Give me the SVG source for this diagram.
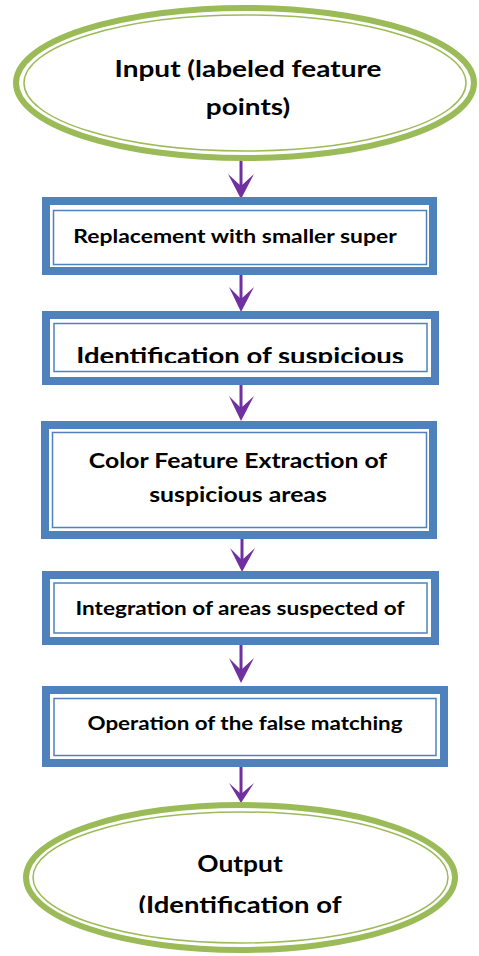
<svg xmlns="http://www.w3.org/2000/svg" width="479" height="956" viewBox="0 0 479 956">
<defs>
<style>
.ell-outer{fill:#fff;stroke:#9BBB59;stroke-width:6}
.ell-inner{fill:none;stroke:#9BBB59;stroke-width:1.5}
.box-outer{fill:#fff;stroke:#4F81BD;stroke-width:8}
.box-inner{fill:none;stroke:#4F81BD;stroke-width:1.5}
.t{font-family:Lato,"Open Sans","Liberation Sans",sans-serif;font-weight:700;fill:#000;text-anchor:middle}
.conn{stroke:#7030A0;stroke-width:3;fill:none}
.head{fill:#7030A0}
</style>
<clipPath id="clip2"><rect x="50" y="300" width="380" height="63"/></clipPath>
<clipPath id="clip7"><rect x="20" y="800" width="440" height="113"/></clipPath>
</defs>
<g id="connectors">
<line class="conn" x1="241" y1="160" x2="241" y2="192"/>
<path class="head" d="M228,174 L241,186 L254,174 L241,199 Z"/>
<line class="conn" x1="241" y1="275" x2="241" y2="306"/>
<path class="head" d="M229,287 L241,299 L254,287 L241,312 Z"/>
<line class="conn" x1="241" y1="385" x2="241" y2="415"/>
<path class="head" d="M229,396 L241,408 L254,396 L241,421 Z"/>
<line class="conn" x1="242" y1="539" x2="242" y2="566"/>
<path class="head" d="M230,548 L242,560 L255,548 L242,572 Z"/>
<line class="conn" x1="241" y1="645" x2="241" y2="677"/>
<path class="head" d="M229,658 L241,670 L254,658 L241,683 Z"/>
<line class="conn" x1="241" y1="767" x2="241" y2="796"/>
<path class="head" d="M229,783 L241,794 L254,783 L241,803 Z"/>
</g>
<g id="input">
<ellipse class="ell-outer" cx="245" cy="83" rx="229" ry="75"/>
<ellipse class="ell-inner" cx="245" cy="83" rx="221" ry="68"/>
<g transform="translate(248,77) scale(1,0.8)"><text class="t" x="0" y="0" font-size="28">Input (labeled feature</text></g>
<g transform="translate(248,115) scale(1,0.8)"><text class="t" x="0" y="0" font-size="28">points)</text></g>
</g>
<g id="step1">
<rect class="box-outer" x="46" y="201" width="387" height="70"/>
<rect class="box-inner" x="53.5" y="210.5" width="373" height="54"/>
<g transform="translate(235,243) scale(1,0.85)"><text class="t" x="0" y="0" font-size="22.9">Replacement with smaller super</text></g>
</g>
<g id="step2">
<rect class="box-outer" x="46" y="315" width="389" height="66"/>
<rect class="box-inner" x="54" y="323.5" width="373" height="48"/>
<g clip-path="url(#clip2)"><g transform="translate(240,364) scale(1,0.85)"><text class="t" x="0" y="0" font-size="27.5">Identification of suspicious</text></g></g>
</g>
<g id="step3">
<rect class="box-outer" x="45" y="425" width="388" height="110"/>
<rect class="box-inner" x="52.5" y="432.5" width="374" height="95"/>
<g transform="translate(238,468) scale(1,0.85)"><text class="t" x="0" y="0" font-size="24.8">Color Feature Extraction of</text></g>
<g transform="translate(238,502) scale(1,0.85)"><text class="t" x="0" y="0" font-size="24.8">suspicious areas</text></g>
</g>
<g id="step4">
<rect class="box-outer" x="46" y="575" width="389" height="66"/>
<rect class="box-inner" x="54" y="583" width="373" height="50"/>
<g transform="translate(240,615) scale(1,0.85)"><text class="t" x="0" y="0" font-size="22.6">Integration of areas suspected of</text></g>
</g>
<g id="step5">
<rect class="box-outer" x="46" y="690" width="398" height="73"/>
<rect class="box-inner" x="54" y="698.5" width="382" height="57"/>
<g transform="translate(245,730) scale(1,0.85)"><text class="t" x="0" y="0" font-size="22.4">Operation of the false matching</text></g>
</g>
<g id="output">
<ellipse class="ell-outer" cx="240.5" cy="877.5" rx="214.5" ry="72.5"/>
<ellipse class="ell-inner" cx="240.5" cy="877.5" rx="207.5" ry="65.5"/>
<g transform="translate(240,872) scale(1,0.85)"><text class="t" x="0" y="0" font-size="26.4">Output</text></g>
<g clip-path="url(#clip7)"><g transform="translate(240,913) scale(1,0.85)"><text class="t" x="0" y="0" font-size="27.5">(Identification of</text></g></g>
</g>
</svg>
